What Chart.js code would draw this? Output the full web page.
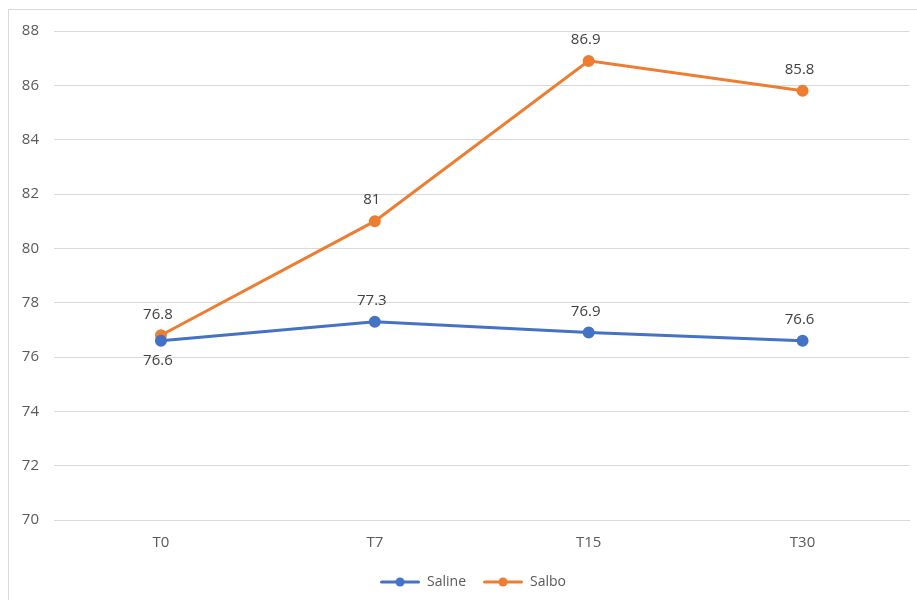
<!DOCTYPE html>
<html>
<head>
<meta charset="utf-8">
<script src="https://cdn.jsdelivr.net/npm/chart.js@4"></script>
<style>
    html, body { margin: 0; padding: 0; background: #fff; overflow: hidden; }
    #frame {
        position: absolute; left: 8px; top: 9px;
        width: 1000px; height: 700px;
        border: 1px solid #d9d9d9;
    }
    #wrap { position: absolute; left: 0; top: 0; width: 917px; height: 600px; }
</style>
</head>
<body>
<div id="frame"></div>
<div id="wrap"><canvas id="chart" width="917" height="600"></canvas></div>
<script>
const categories = ['T0', 'T7', 'T15', 'T30'];
const salineValues = [76.6, 77.3, 76.9, 76.6];
const salboValues = [76.8, 81, 86.9, 85.8];
const yTicks = [70, 72, 74, 76, 78, 80, 82, 84, 86, 88];

const BLUE = '#4472C4';
const ORANGE = '#ED7D31';
const FONT = "'Open Sans', 'Noto Sans', sans-serif";

// legend marker: short line with a dot in the middle
function legendMarker(color) {
    const c = document.createElement('canvas');
    c.width = 40;
    c.height = 12;
    const g = c.getContext('2d');
    g.strokeStyle = color;
    g.lineWidth = 3;
    g.lineCap = 'round';
    g.beginPath();
    g.moveTo(1.5, 6);
    g.lineTo(38.5, 6);
    g.stroke();
    g.fillStyle = color;
    g.beginPath();
    g.arc(20, 6, 4.5, 0, Math.PI * 2);
    g.fill();
    return c;
}

// simple value labels, above each point unless told otherwise
const valueLabels = {
    id: 'valueLabels',
    afterDatasetsDraw(chart) {
        const ctx = chart.ctx;
        ctx.save();
        ctx.font = '15px ' + FONT;
        ctx.fillStyle = '#404040';
        ctx.textAlign = 'center';
        ctx.textBaseline = 'middle';
        chart.data.datasets.forEach((ds, di) => {
            const meta = chart.getDatasetMeta(di);
            meta.data.forEach((pt, i) => {
                const below = ds.labelBelow && ds.labelBelow[i];
                const y = below ? pt.y + 20 : pt.y - 21;
                ctx.fillText(String(ds.data[i]), pt.x - 3, y);
            });
        });
        ctx.restore();
    }
};

// legend sits centred under the plot area rather than the whole canvas
const legendShift = {
    id: 'legendShift',
    afterLayout(chart) {
        if (chart.legend) chart.legend.left += 36;
    }
};

new Chart(document.getElementById('chart'), {
    type: 'line',
    data: {
        labels: categories,
        datasets: [
            {
                label: 'Saline',
                data: salineValues,
                borderColor: BLUE,
                backgroundColor: BLUE,
                borderWidth: 3,
                pointRadius: 4.5,
                pointStyle: 'circle',
                labelBelow: [true, false, false, false],
                legendImg: legendMarker(BLUE)
            },
            {
                label: 'Salbo',
                data: salboValues,
                borderColor: ORANGE,
                backgroundColor: ORANGE,
                borderWidth: 3,
                pointRadius: 4.5,
                pointStyle: 'circle',
                labelBelow: [false, false, false, false],
                legendImg: legendMarker(ORANGE)
            }
        ]
    },
    options: {
        responsive: false,
        animation: false,
        layout: { padding: { top: 31, right: 7, bottom: 1, left: 0 } },
        plugins: {
            tooltip: { enabled: false },
            legend: {
                position: 'bottom',
                labels: {
                    usePointStyle: true,
                    pointStyleWidth: 40,
                    color: '#595959',
                    font: { family: FONT, size: 14 },
                    padding: 17,
                    boxHeight: 12,
                    generateLabels(chart) {
                        return chart.data.datasets.map((ds, i) => ({
                            text: ds.label,
                            pointStyle: ds.legendImg,
                            fillStyle: ds.borderColor,
                            strokeStyle: ds.borderColor,
                            fontColor: '#595959',
                            lineWidth: 0,
                            datasetIndex: i
                        }));
                    }
                }
            }
        },
        scales: {
            x: {
                offset: true,
                grid: { display: false, drawTicks: false, offset: true },
                border: { color: '#d9d9d9', width: 1 },
                ticks: { color: '#595959', font: { family: FONT, size: 15 }, padding: 14 },
                afterFit(scale) { scale.height = 38; }
            },
            y: {
                min: 70,
                max: 88,
                afterBuildTicks(scale) { scale.ticks = yTicks.map(v => ({ value: v })); },
                grid: { color: '#d9d9d9', drawTicks: false },
                border: { display: false },
                ticks: { color: '#595959', font: { family: FONT, size: 15 }, padding: 15 },
                afterFit(scale) { scale.width = 54; }
            }
        }
    },
    plugins: [valueLabels, legendShift]
});
</script>
</body>
</html>
